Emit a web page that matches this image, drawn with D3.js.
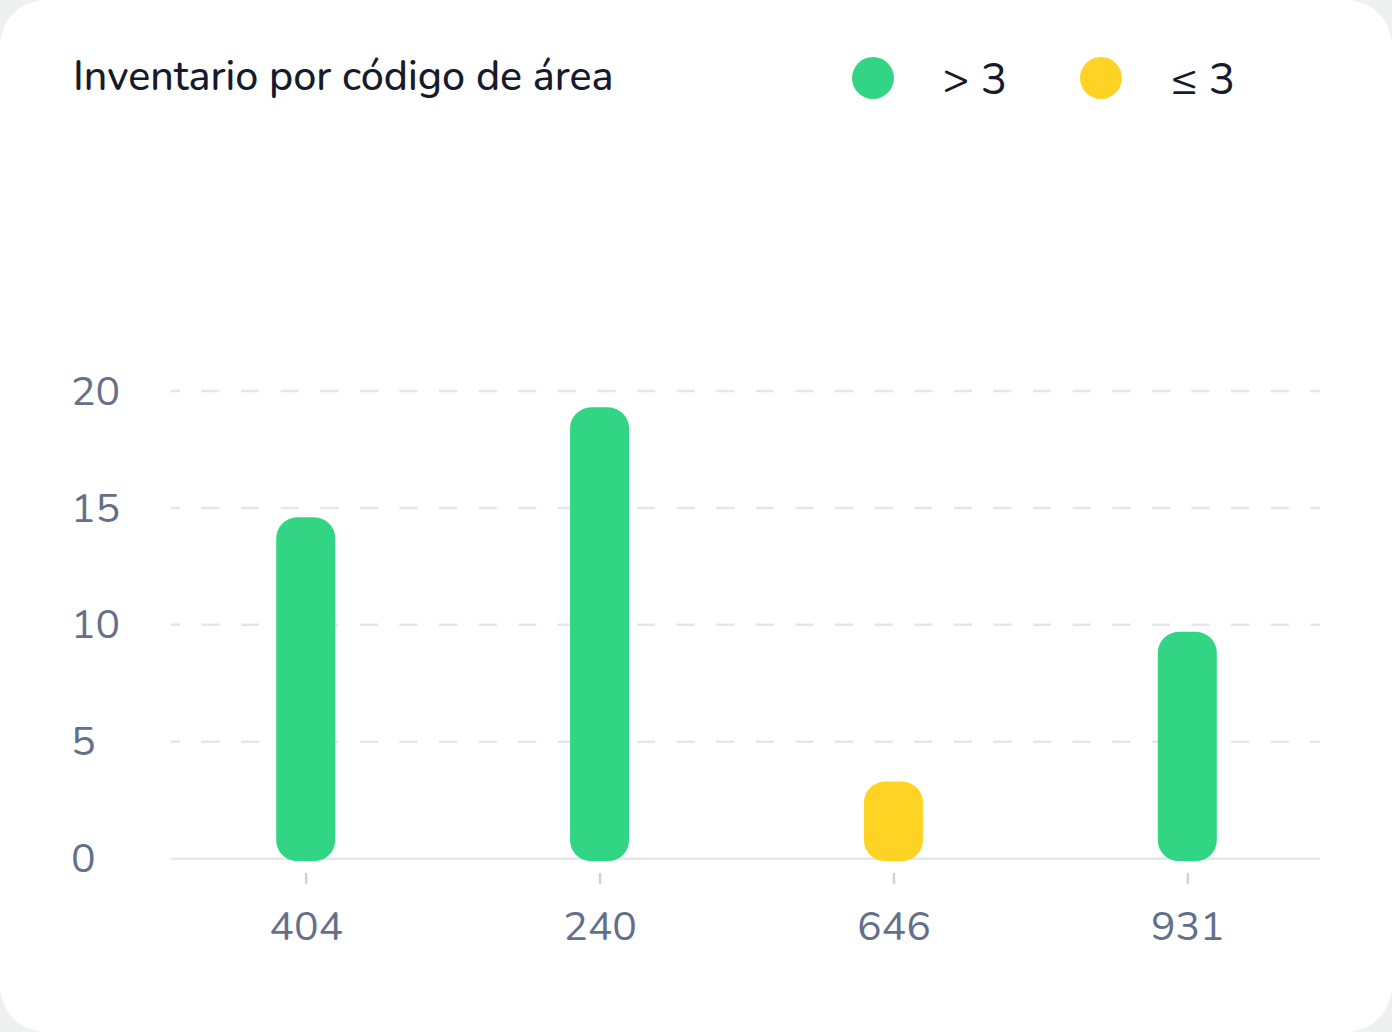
<!DOCTYPE html>
<html>
<head>
  <meta charset="utf-8">
  <title>Inventario por código de área</title>
  <script src="https://d3js.org/d3.v7.min.js"></script>
  <style>
    html, body { margin: 0; padding: 0; background: #eef0f0; }
    svg { display: block; }
  </style>
</head>
<body>
  <script>
    // data
    var codigos = ["404", "240", "646", "931"];
    var inventario = [14.6, 19.3, 3.3, 9.7];
    var grupo = ["> 3", "> 3", "≤ 3", "> 3"];
    var leyenda = ["> 3", "≤ 3"];
    var colores = ["#32d583", "#ffd324"];
    var ticksY = [0, 5, 10, 15, 20];

    var w = 1392, h = 1032;
    var fuente = "Nunito, 'Noto Sans', sans-serif";

    var svg = d3.select("body").append("svg").attr("width", w).attr("height", h);

    // tarjeta
    svg.append("rect")
      .attr("x", 0).attr("y", 0)
      .attr("width", w).attr("height", h)
      .attr("rx", 46).attr("ry", 46)
      .attr("fill", "#ffffff");

    var x = d3.scalePoint().domain(codigos).range([172, 1321]).padding(0.455);
    var y = d3.scaleLinear().domain([0, 20]).range([858.7, 391]);
    var color = d3.scaleOrdinal().domain(leyenda).range(colores);

    // titulo
    svg.append("text")
      .attr("x", 73).attr("y", 90)
      .attr("font-family", fuente)
      .attr("font-size", "41.2px")
      .attr("font-weight", 500)
      .attr("fill", "#161a2b")
      .text("Inventario por código de área");

    // leyenda
    var posLeyenda = d3.scalePoint().domain(leyenda).range([873, 1101]);
    var items = svg.selectAll(".leyenda").data(leyenda).enter().append("g")
      .attr("class", "leyenda")
      .attr("transform", function(d) { return "translate(" + posLeyenda(d) + ",78)"; });
    items.append("circle").attr("r", 21).attr("fill", function(d) { return color(d); });
    items.append("text")
      .attr("x", 70).attr("y", 16)
      .attr("font-family", fuente)
      .attr("font-size", "44px")
      .attr("fill", "#161a2b")
      .text(function(d) { return d; });

    // rejilla
    svg.append("g").selectAll("line").data(ticksY.filter(function(t) { return t > 0; })).enter().append("line")
      .attr("x1", 171).attr("x2", 1320)
      .attr("y1", function(d) { return y(d); })
      .attr("y2", function(d) { return y(d); })
      .attr("stroke", "#e6e6e6")
      .attr("stroke-width", 2.5)
      .attr("stroke-dasharray", "18.2 21.4")
      .attr("stroke-dashoffset", 9.2);

    // eje y (etiquetas alineadas a la izquierda)
    var ejeY = d3.axisLeft(y).tickValues(ticksY).tickSize(0).tickPadding(0);
    var gy = svg.append("g").attr("transform", "translate(71,0)").call(ejeY);
    gy.select(".domain").remove();
    gy.selectAll("text")
      .attr("text-anchor", "start")
      .attr("font-family", fuente)
      .attr("font-size", "41px")
      .attr("fill", "#64708a");

    // linea base
    svg.append("line")
      .attr("x1", 171).attr("x2", 1320)
      .attr("y1", y(0)).attr("y2", y(0))
      .attr("stroke", "#e5e7eb")
      .attr("stroke-width", 2.5);

    // barras
    var anchoBarra = 59;
    svg.append("g").selectAll("rect").data(codigos).enter().append("rect")
      .attr("x", function(d) { return x(d) - anchoBarra / 2; })
      .attr("y", function(d, i) { return y(inventario[i]); })
      .attr("width", anchoBarra)
      .attr("height", function(d, i) { return y(0) - y(inventario[i]) + 2.5; })
      .attr("rx", 21).attr("ry", 21)
      .attr("fill", function(d, i) { return color(grupo[i]); });

    // eje x
    var ejeX = d3.axisBottom(x).tickSize(11).tickPadding(27);
    var gx = svg.append("g").attr("transform", "translate(0,873)").call(ejeX);
    gx.select(".domain").remove();
    gx.selectAll("line").attr("stroke", "#cfd2d8").attr("stroke-width", 2.5);
    gx.selectAll("text")
      .attr("font-family", fuente)
      .attr("font-size", "41px")
      .attr("fill", "#64708a");
  </script>
</body>
</html>
